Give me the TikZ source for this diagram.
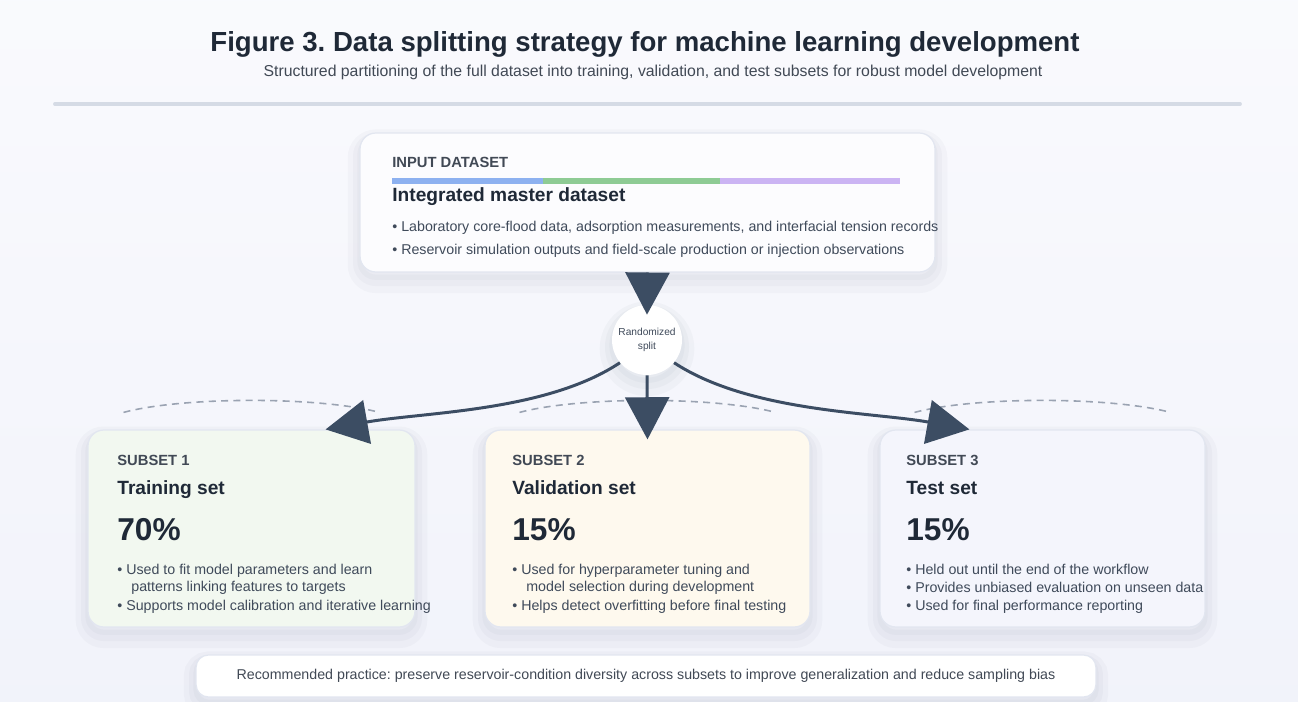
\documentclass[tikz,border=0pt]{standalone}
\usepackage{fontspec}
\setmainfont{Liberation Sans}
\usetikzlibrary{arrows.meta,calc}
\frenchspacing

\definecolor{ink}{HTML}{1F2937}
\definecolor{slate}{HTML}{3C4D63}
\definecolor{muted}{HTML}{3F4A5A}
\definecolor{rulecol}{HTML}{D5DBE5}
\definecolor{edge}{HTML}{E2E6F0}
\definecolor{trainfill}{HTML}{F2F8F0}
\definecolor{validfill}{HTML}{FEF9EE}
\definecolor{testfill}{HTML}{F4F5FC}
\definecolor{barblue}{HTML}{8DB1F0}
\definecolor{bargreen}{HTML}{8ECB94}
\definecolor{barpurple}{HTML}{CBB4F3}
\definecolor{dashcol}{HTML}{9AA3B2}

\tikzset{
  halo/.style={preaction={draw=slate, fill=none, opacity=#1, line width=14pt, transform canvas={yshift=-5pt}},
               preaction={draw=slate, fill=none, opacity=#1, line width=8pt, transform canvas={yshift=-4pt}},
               preaction={draw=slate, fill=none, opacity=#1, line width=3pt, transform canvas={yshift=-3pt}}},
  card/.style={draw=edge, line width=0.7pt, rounded corners=9pt, halo=0.03},
  tag/.style={font=\fontsize{8.4}{10}\selectfont\bfseries, text=ink!85, anchor=base west, inner sep=0pt},
  setname/.style={font=\fontsize{10.9}{13}\selectfont\bfseries, text=ink, anchor=base west, inner sep=0pt},
  share/.style={font=\fontsize{18}{21}\selectfont\bfseries, text=ink, anchor=base west, inner sep=0pt},
  point/.style={font=\fontsize{8.1}{10}\selectfont, text=muted, anchor=base west, inner sep=0pt},
  flow/.style={draw=slate, line width=1.7pt, -{Triangle[width=25pt,length=24pt]}},
  arcline/.style={draw=dashcol, line width=0.9pt, dash pattern=on 4pt off 3pt},
}

\begin{document}
\begin{tikzpicture}[x=0.02cm,y=-0.02cm]
  \useasboundingbox (0,0) rectangle (1298,702);
  \shade[top color=white!50!testfill, bottom color=testfill!85!edge] (0,0) rectangle (1298,702);

  % heading
  \node[font=\fontsize{15.7}{18}\selectfont\bfseries, text=ink] (title) at (645,44)
    {Figure 3. Data splitting strategy for machine learning development};
  \node[font=\fontsize{9}{11}\selectfont, text=ink!85] (subtitle) at (653,72)
    {Structured partitioning of the full dataset into training, validation, and test subsets for robust model development};
  \draw[rulecol, line width=2.2pt, line cap=round] (55,104) -- (1240,104);

  % boxes
  \node[card, fill=white!70!testfill, minimum width=11.5cm, minimum height=2.78cm] (input) at (647.5,202.5) {};
  \node[card, fill=trainfill, minimum width=6.54cm, minimum height=3.94cm] (train) at (251.5,528.5) {};
  \node[card, fill=validfill, minimum width=6.5cm, minimum height=3.94cm] (valid) at (647.5,528.5) {};
  \node[card, fill=testfill, minimum width=6.5cm, minimum height=3.94cm] (test) at (1042.5,528.5) {};
  \node[card, fill=white, rounded corners=7pt, minimum width=18cm, minimum height=0.84cm,
    font=\fontsize{8.1}{10}\selectfont, text=ink!85] (note) at (646,676)
    {Recommended practice: preserve reservoir-condition diversity across subsets to improve generalization and reduce sampling bias};

  \foreach \b in {train,valid,test}
    \draw[arcline] ($(\b.north)+(-128,-17)$) .. controls +(60,-16) and +(-60,-16) .. ($(\b.north)+(128,-17)$);

  \node[circle, fill=white, minimum size=1.4cm, inner sep=0pt, align=center,
    font=\fontsize{5.8}{8}\selectfont, text=muted, halo=0.035]
    (split) at (647,340) {Randomized\\split};

  % connectors
  \draw[flow] (input.south) -- ([yshift=-0.2cm]split.north);
  \draw[flow] (split.220) .. controls (546,412) and (423,412) .. ([xshift=-1.8cm]train.north east);
  \draw[flow] (split.south) -- ([yshift=-0.2cm]valid.north);
  \draw[flow] (split.-40) .. controls (749,412) and (872,412) .. ([xshift=1.8cm]test.north west);

  % input dataset
  \node[tag] (inlabel) at (392,168) {INPUT DATASET};
  \fill[barblue] (392,178) rectangle (543,184);
  \fill[bargreen] (543,178) rectangle (720,184);
  \fill[barpurple] (720,178) rectangle (900,184);
  \node[setname] (inname) at (392,202) {Integrated master dataset};
  \node[point] (in1) at (392,232) {• Laboratory core-flood data, adsorption measurements, and interfacial tension records};
  \node[point] (in2) at (392,255) {• Reservoir simulation outputs and field-scale production or injection observations};

  % subset 1
  \node[tag] (trlabel) at (117,465) {SUBSET 1};
  \node[setname] (trname) at (117,494) {Training set};
  \node[share] (trshare) at (117,540) {70\%};
  \node[point] (tr1) at (117,574) {• Used to fit model parameters and learn};
  \node[point] (tr2) at (131,591) {patterns linking features to targets};
  \node[point] (tr3) at (117,610) {• Supports model calibration and iterative learning};

  % subset 2
  \node[tag] (valabel) at (512,465) {SUBSET 2};
  \node[setname] (vaname) at (512,494) {Validation set};
  \node[share] (vashare) at (512,540) {15\%};
  \node[point] (va1) at (512,574) {• Used for hyperparameter tuning and};
  \node[point] (va2) at (526,591) {model selection during development};
  \node[point] (va3) at (512,610) {• Helps detect overfitting before final testing};

  % subset 3
  \node[tag] (telabel) at (906,465) {SUBSET 3};
  \node[setname] (tename) at (906,494) {Test set};
  \node[share] (teshare) at (906,540) {15\%};
  \node[point] (te1) at (906,574) {• Held out until the end of the workflow};
  \node[point] (te2) at (906,592) {• Provides unbiased evaluation on unseen data};
  \node[point] (te3) at (906,610) {• Used for final performance reporting};
\end{tikzpicture}
\end{document}
